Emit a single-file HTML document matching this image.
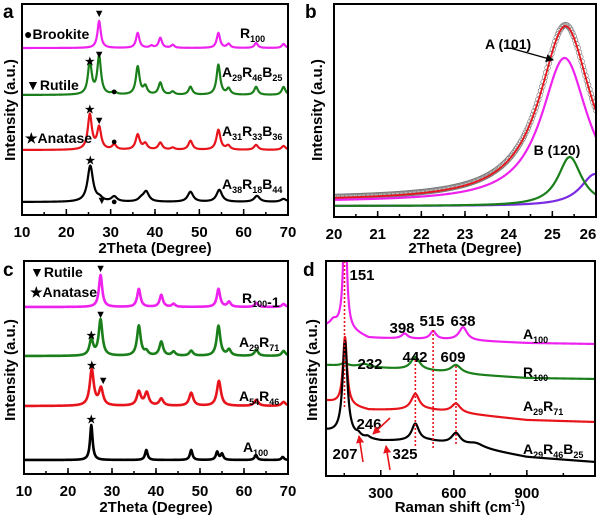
<!DOCTYPE html>
<html><head><meta charset="utf-8"><style>
html,body{margin:0;padding:0;background:#fff;width:600px;height:517px;overflow:hidden}
svg{display:block;font-family:"Liberation Sans",Arial,sans-serif;font-weight:bold}
</style></head><body>
<svg id="fig" width="600" height="517" viewBox="0 0 600 517" xmlns="http://www.w3.org/2000/svg">
<defs>
<clipPath id="ca"><rect x="22" y="4" width="266" height="211"/></clipPath>
<clipPath id="cb"><rect x="334" y="4" width="262" height="213"/></clipPath>
<clipPath id="cc"><rect x="24" y="261" width="264" height="213"/></clipPath>
<clipPath id="cd"><rect x="326" y="261" width="269" height="215"/></clipPath>
<marker id="ah" markerWidth="8" markerHeight="8" refX="7" refY="4" orient="auto" markerUnits="userSpaceOnUse"><path d="M0,0 L8,4 L0,8 z" fill="#000"/></marker>
<marker id="ahr" markerWidth="8" markerHeight="8" refX="7" refY="4" orient="auto" markerUnits="userSpaceOnUse"><path d="M0,0 L8,4 L0,8 z" fill="#e8141b"/></marker>
</defs>
<g id="layer"></g>
</svg>
<script>
// ---------- DATA ----------
const aSeries = ['R100','A29R46B25','A31R33B36','A38R18B44'];
const aBase = [167, 120, 65, 13];
const aWidth = [0.45, 0.5, 0.55, 0.75];
const aPeaksR100 = [[27.4,27],[36.1,15],[39.2,2],[41.2,10],[44,3],[54.3,15],[56.6,4],[62.8,5],[69,4]];
const aPeaksA29R46B25 = [[25.3,33],[27.4,38],[30.8,3],[36.1,28],[37.8,8],[41.2,12],[44,3],[48,8],[54.3,30],[56.6,6],[62.8,8],[69,8]];
const aPeaksA31R33B36 = [[25.3,35],[27.4,22],[30.8,5],[36.1,15],[37.8,6],[41.2,7],[44,2],[48,9],[54.3,20],[56.5,4],[62.8,5],[69,4]];
const aPeaksA38R18B44 = [[25.4,36],[27.5,3],[30.8,5],[36.9,3],[38,10],[48,10],[54.5,12],[63,6],[69,3]];
const aXTicks = [10,20,30,40,50,60,70];

const bMagenta = [25.28, 144, 0.65, 15];
const bGreen = [25.4, 49, 0.33, 11];
const bPurple = [25.98, 32, 0.4, 11];
const bFit = [25.3, 175, 0.72, 16];
const bXTicks = [20,21,22,23,24,25,26];

const cSeries = ['R100-1','A29R71','A54R46','A100'];
const cBase = [167, 118, 68, 14];
const cWidth = [0.45, 0.5, 0.55, 0.35];
const cPeaksR100 = [[27.4,32],[36.1,18],[41.2,12],[44,3],[54.2,18],[56.6,5],[62.8,4],[69,3]];
const cPeaksA29R71 = [[25.3,16],[27.4,36],[36.1,30],[37.8,4],[41.2,14],[44,4],[48,5],[54.2,30],[56.6,6],[62.8,6],[69,5]];
const cPeaksA54R46 = [[25.4,36],[27.5,17],[36.1,14],[37.9,13],[41.2,7],[48,13],[54.3,25],[62.8,6],[69,4]];
const cPeaksA100 = [[25.3,35],[37.8,10],[48,10],[53.9,8],[55,6],[62.7,5],[68.8,3]];
const cXTicks = [10,20,30,40,50,60,70];

const dBaseA100 = [[75,150],[130,150],[250,138],[600,136],[900,133],[1180,132]];
const dBaseR100 = [[75,111],[300,108],[500,105],[700,101],[900,98],[1180,97]];
const dBaseA29R71 = [[75,75],[250,66],[500,66],[700,61],[900,56],[1180,54]];
const dBaseA29R46B25 = [[75,45],[200,38],[300,35],[500,35],[700,28],[900,19],[1180,14]];
const dPeaksA100 = [[153,130,8],[105,5,15],[398,5,15],[515,8,15],[638,13,20]];
const dPeaksR100 = [[151,3,15],[232,3,25],[442,13,22],[609,8,25]];
const dPeaksA29R71 = [[153,68,10],[442,16,20],[609,9,22]];
const dPeaksA29R46B25 = [[153,94,12],[207,3,12],[246,2,12],[442,17,18],[609,11,22],[690,4,40]];
const dXTicks = [300,600,900];
const dLines = [151,442,515,609];

// ---------- HELPERS ----------
const NS='http://www.w3.org/2000/svg';
const layer=document.getElementById('layer');
function mk(tag, attrs, parent){const e=document.createElementNS(NS,tag);for(const k in attrs)e.setAttribute(k,attrs[k]);(parent||layer).appendChild(e);return e;}
function lor(x,c,h,w){const d=(x-c)/w;return h/(1+d*d);}
function lin(pts,x){for(let i=0;i<pts.length-1;i++){if(x<=pts[i+1][0]){const t=(x-pts[i][0])/(pts[i+1][0]-pts[i][0]);return pts[i][1]+t*(pts[i+1][1]-pts[i][1]);}}return pts[pts.length-1][1];}
function axis(x0,x1,y0,y1,d0,d1){return {sx:v=>x0+(v-d0)/(d1-d0)*(x1-x0), sy:v=>y1-v, x0,x1,y0,y1};}
function frame(ax,name){
  const r=mk('rect',{x:ax.x0,y:ax.y0,width:ax.x1-ax.x0,height:ax.y1-ax.y0,fill:'none',stroke:'#000','stroke-width':2});
  
  
}
function ticks(ax,tv,minorStep,name,lo,hi){
  const g=mk('g',{});
  
  
  for(let v=lo;v<=hi+1e-9;v+=minorStep){const x=ax.sx(v);if(x<ax.x0-0.5||x>ax.x1+0.5)continue;mk('line',{x1:x,x2:x,y1:ax.y1,y2:ax.y1-3,stroke:'#000','stroke-width':1.5},g);}
  tv.forEach(v=>{const x=ax.sx(v);mk('line',{x1:x,x2:x,y1:ax.y1,y2:ax.y1-6,stroke:'#000','stroke-width':1.5},g);
    const t=mk('text',{x:Math.min(x,588),y:ax.y1+22,'text-anchor':'middle','font-size':15},g);t.textContent=v;
    
    });
}
function pathFrom(ax,fn,lo,hi,step,color,clip,name,sw){
  let d='';for(let v=lo;v<=hi+1e-9;v+=step){d+=(d?'L':'M')+ax.sx(v).toFixed(2)+','+ax.sy(fn(v)).toFixed(2);}
  const p=mk('path',{d:d,fill:'none',stroke:color,'stroke-width':sw||2.2,'clip-path':'url(#'+clip+')','stroke-linejoin':'round'});
  
  
  return p;
}
function txt(x,y,s,size,name,anchor,fill,rot){
  const t=mk('text',{x:x,y:y,'font-size':size||15,'text-anchor':anchor||'start',fill:fill||'#000'});
  if(rot)t.setAttribute('transform','rotate(-90 '+x+' '+y+')');
  t.innerHTML=s;
  
  
  return t;
}
function sub(main){
  const parts=main.split(/(_\d+)/).filter(p=>p.length);
  let out='',low=false;
  parts.forEach(p=>{
    if(p[0]==='_'){out+='<tspan font-size="9" dy="'+(low?0:4)+'">'+p.slice(1)+'</tspan>';low=true;}
    else{out+='<tspan dy="'+(low?-4:0)+'">'+p+'</tspan>';low=false;}
  });
  return out;
}

// ---------- PANEL A ----------
const A=axis(22,288,4,215,10,70);
const aPk=[aPeaksR100,aPeaksA29R46B25,aPeaksA31R33B36,aPeaksA38R18B44];
const aCol=['#ee22ee','#1a7f1a','#e8141b','#000'];
aSeries.forEach((s,i)=>{pathFrom(A,x=>aBase[i]+aPk[i].reduce((a,p)=>a+lor(x,p[0],p[1],aWidth[i]),0),10,70,0.1,aCol[i],'ca','xrd-a-'+s.toLowerCase());});
frame(A,'panel-a');ticks(A,aXTicks,5,'panel-a',10,70);
txt(3,18,'a',19,'panel-a-letter');
txt(155,253,'2Theta (Degree)',15,'panel-a-x-title','middle');
txt(15,110,'Intensity (a.u.)',15,'panel-a-y-title','middle',null,true);
txt(24,39,'●Brookite',14,'legend-brookite');
txt(26,90,'▼Rutile',14,'legend-rutile');
txt(25,143,'★Anatase',14,'legend-anatase');
txt(240,38,sub('R_100'),14,'label-r100');
txt(222,77,sub('A_29R_46B_25'),14,'label-a29r46b25');
txt(222,136,sub('A_31R_33B_36'),14,'label-a31r33b36');
txt(222,189,sub('A_38R_18B_44'),14,'label-a38r18b44');
[[27.4,17,'▼'],[25.3,65,'★'],[27.4,58,'▼'],[30.8,95,'●'],[25.3,113,'★'],[27.4,124,'▼'],[30.8,145,'●'],[25.4,164,'★'],[28,204,'▼'],[30.8,205,'●']].forEach(m=>txt(A.sx(m[0]),m[1],m[2],11,'phase-marker','middle'));

// ---------- PANEL B ----------
const B=axis(334,596,4,217,20,26);
const fitFn=x=>bFit[3]+lor(x,bFit[0],bFit[1],bFit[2]);
const cg=mk('g',{'clip-path':'url(#cb)'});


for(let x=20;x<=26.01;x+=0.03){mk('circle',{cx:B.sx(x),cy:B.sy(fitFn(x))-1,r:2.8,fill:'none',stroke:'#777','stroke-width':0.6},cg);}
pathFrom(B,x=>bPurple[3]+lor(x,bPurple[0],bPurple[1],bPurple[2]),20,26,0.02,'#7a2be2','cb','fit-purple');
pathFrom(B,x=>bGreen[3]+lor(x,bGreen[0],bGreen[1],bGreen[2]),20,26,0.02,'#1a7f1a','cb','fit-b120');
pathFrom(B,x=>bMagenta[3]+lor(x,bMagenta[0],bMagenta[1],bMagenta[2]),20,26,0.02,'#ee22ee','cb','fit-a101');
pathFrom(B,fitFn,20,26,0.02,'#e8141b','cb','fit-total',1.8);
frame(B,'panel-b');ticks(B,bXTicks,0.5,'panel-b',20,26);
txt(305,18,'b',19,'panel-b-letter');
txt(465,253,'2Theta (Degree)',15,'panel-b-x-title','middle');
txt(322,110,'Intensity (a.u.)',15,'panel-b-y-title','middle',null,true);
txt(485,49,'A (101)',14,'label-a101');
txt(557,155,'B (120)',14,'label-b120','middle');
const ar=mk('line',{x1:510,y1:48,x2:553,y2:60,stroke:'#000','stroke-width':1.3,'marker-end':'url(#ah)'});



// ---------- PANEL C ----------
const C=axis(24,288,261,474,10,70);
const cPk=[cPeaksR100,cPeaksA29R71,cPeaksA54R46,cPeaksA100];
cSeries.forEach((s,i)=>{pathFrom(C,x=>cBase[i]+cPk[i].reduce((a,p)=>a+lor(x,p[0],p[1],cWidth[i]),0),10,70,0.1,aCol[i],'cc','xrd-c-'+s.toLowerCase(),2.6);});
frame(C,'panel-c');ticks(C,cXTicks,5,'panel-c',10,70);
txt(3,276,'c',19,'panel-c-letter');
txt(156,512,'2Theta (Degree)',15,'panel-c-x-title','middle');
txt(15,370,'Intensity (a.u.)',15,'panel-c-y-title','middle',null,true);
txt(30,277,'▼Rutile',14,'legend-c-rutile');
txt(30,297,'★Anatase',14,'legend-c-anatase');
txt(242,303,sub('R_100')+'-1',14,'label-r100-1');
txt(239,347,sub('A_29R_71'),14,'label-a29r71');
txt(239,401,sub('A_54R_46'),14,'label-a54r46');
txt(243,452,sub('A_100'),14,'label-a100');
[[27.4,272,'▼'],[25.3,339,'★'],[27.4,318,'▼'],[25.4,369,'★'],[28,384,'▼'],[25.3,423,'★']].forEach(m=>txt(C.sx(m[0]),m[1],m[2],11,'phase-marker','middle'));

// ---------- PANEL D ----------
const D=axis(326,595,261,476,75,1180);
const dB=[dBaseA100,dBaseR100,dBaseA29R71,dBaseA29R46B25];
const dP=[dPeaksA100,dPeaksR100,dPeaksA29R71,dPeaksA29R46B25];
const dNames=['a100','r100','a29r71','a29r46b25'];
dNames.forEach((n,i)=>{pathFrom(D,x=>lin(dB[i],x)+dP[i].reduce((a,p)=>a+lor(x,p[0],p[1],p[2]),0),75,1180,1,aCol[i],'cd','raman-'+n);});
const dlY=[[261,408],[360,446],[330,448],[366,446]];
dLines.forEach((v,i)=>{const l=mk('line',{x1:D.sx(v),x2:D.sx(v),y1:dlY[i][0],y2:dlY[i][1],stroke:'#e8141b','stroke-width':1.6,'stroke-dasharray':'2,2'});
  
  });
frame(D,'panel-d');ticks(D,dXTicks,150,'panel-d',150,1050);
txt(303,276,'d',19,'panel-d-letter');
txt(460,512,'Raman shift (cm<tspan font-size="10" dy="-6">-1</tspan><tspan dy="6">)</tspan>',15,'panel-d-x-title','middle');
txt(317,370,'Intensity (a.u.)',15,'panel-d-y-title','middle',null,true);
[['151',362,280],['398',402,333],['515',432,326],['638',463,326],['232',370,369],['442',415,362],['609',453,362],['246',369,429],['207',345,459],['325',405,459]].forEach(t=>txt(t[1],t[2],t[0],15,'peak-label-'+t[0],'middle'));
txt(523,339,sub('A_100'),14,'label-d-a100');
txt(523,377,sub('R_100'),14,'label-d-r100');
txt(523,411,sub('A_29R_71'),14,'label-d-a29r71');
txt(523,454,sub('A_29R_46B_25'),14,'label-d-a29r46b25');
[[390,418,373,434],[363,462,359,436],[390,470,386,446]].forEach(a=>{const l=mk('line',{x1:a[0],y1:a[1],x2:a[2],y2:a[3],stroke:'#e8141b','stroke-width':1.6,'marker-end':'url(#ahr)'});
  
  });
</script>
</body></html>
